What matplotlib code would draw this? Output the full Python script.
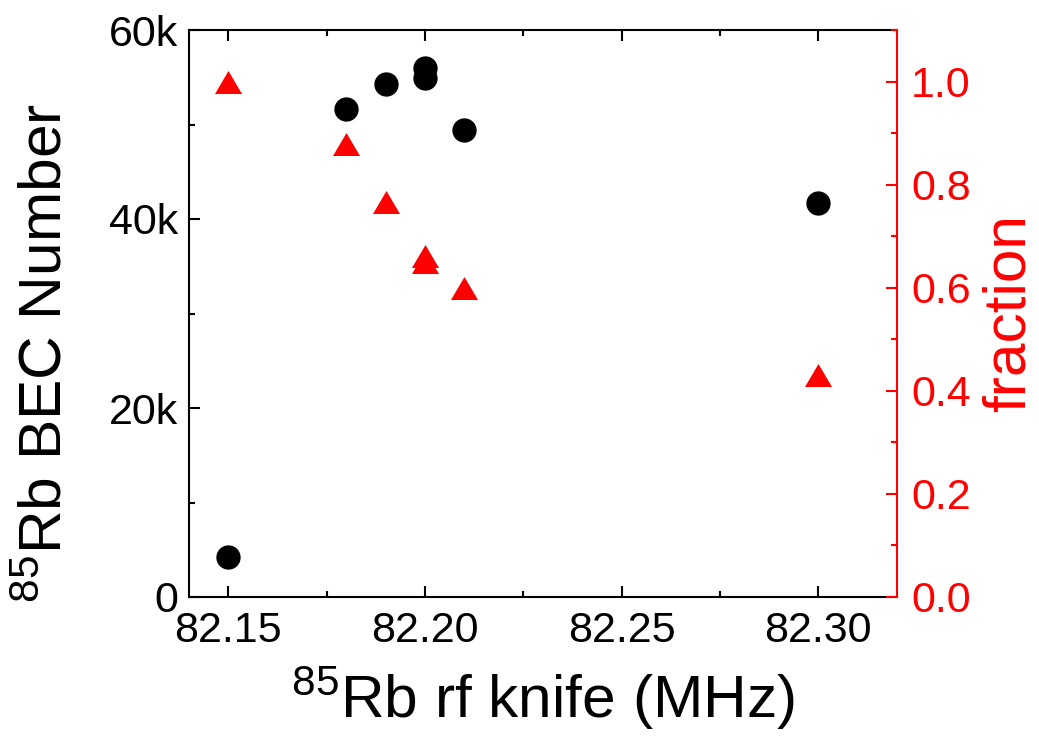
import matplotlib
matplotlib.use("Agg")
import matplotlib.pyplot as plt
from matplotlib.ticker import MultipleLocator, FixedLocator, FuncFormatter

plt.rcParams['font.family'] = ['Liberation Sans', 'DejaVu Sans']
plt.rcParams['mathtext.fontset'] = 'custom'
plt.rcParams['mathtext.rm'] = 'Liberation Sans'
plt.rcParams['mathtext.it'] = 'Liberation Sans:italic'
plt.rcParams['mathtext.bf'] = 'Liberation Sans:bold'

# Data
knife_bec = [82.15, 82.18, 82.19, 82.20, 82.20, 82.21, 82.30]
bec_number = [4250, 51600, 54300, 56000, 54900, 49400, 41700]
knife_frac = [82.15, 82.18, 82.19, 82.20, 82.20, 82.21, 82.30]
fraction = [1.0, 0.879, 0.766, 0.661, 0.649, 0.600, 0.430]

x_ticks = [82.15, 82.20, 82.25, 82.30]
left_ticks = [0, 20000, 40000, 60000]
left_labels = ["0", "20k", "40k", "60k"]
right_ticks = [0.0, 0.2, 0.4, 0.6, 0.8, 1.0]

fig = plt.figure(figsize=(10.39, 7.44), dpi=100)
ax = fig.add_axes([189/1039, 1-597/744, (897-189)/1039, (597-30)/744])
ax2 = ax.twinx()

ax.plot(knife_bec, bec_number, linestyle='none', marker='o', markersize=16.5,
        color='black', zorder=3)
tri = [(0, 0.85), (-1, -0.85), (1, -0.85), (0, 0.85)]
ax2.plot(knife_frac, fraction, linestyle='none', marker=tri, markersize=19.5,
         color='red', markeredgewidth=0, zorder=3)

ax.set_xlim(82.14, 82.32)
ax.set_ylim(0, 60000)
ax2.set_ylim(0, 1.1)

ax.xaxis.set_major_locator(FixedLocator(x_ticks))
ax.xaxis.set_minor_locator(MultipleLocator(0.025))
ax.xaxis.set_major_formatter(FuncFormatter(lambda v, p: f"{v:.2f}"))
ax.yaxis.set_major_locator(FixedLocator(left_ticks))
ax.set_yticklabels(left_labels)
ax.yaxis.set_minor_locator(MultipleLocator(10000))
ax2.yaxis.set_major_locator(FixedLocator(right_ticks))
ax2.yaxis.set_minor_locator(MultipleLocator(0.1))
ax2.yaxis.set_major_formatter(FuncFormatter(lambda v, p: f"{v:.1f}"))

lw = 1.5
for s in ax.spines.values():
    s.set_linewidth(lw)
ax.spines['right'].set_visible(False)
for name, s in ax2.spines.items():
    s.set_linewidth(lw)
    if name != 'right':
        s.set_visible(False)
ax2.spines['right'].set_color('red')

ax.tick_params(axis='both', which='major', direction='in', length=8, width=lw,
               labelsize=31, pad=8, top=True, right=False)
ax.tick_params(axis='both', which='minor', direction='in', length=4, width=lw,
               top=True, right=False)
ax.tick_params(axis='x', which='major', pad=10)
ax2.tick_params(axis='y', which='major', direction='in', length=8, width=lw,
                labelsize=31, pad=10, colors='red')
ax2.tick_params(axis='y', which='minor', direction='in', length=4, width=lw,
                colors='red')

ax.set_xlabel(r'$^{85}$Rb rf knife (MHz)', fontsize=43.5, labelpad=10)
ax.set_ylabel(r'$^{85}$Rb BEC Number', fontsize=43.5)
ax.yaxis.set_label_coords(-0.163, 0.43)
ax2.set_ylabel('fraction', fontsize=43.5, color='red', labelpad=8)

fig.savefig('out.png', dpi=100)
